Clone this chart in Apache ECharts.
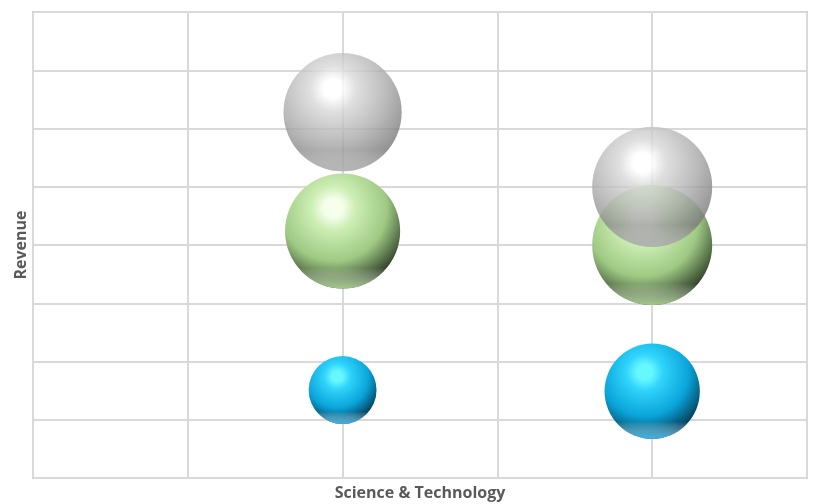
<!DOCTYPE html>
<html>
<head>
<meta charset="utf-8">
<script src="https://cdn.jsdelivr.net/npm/echarts@6/dist/echarts.min.js"></script>
<style>
html,body{margin:0;padding:0;background:#fff;}
#chart{width:814px;height:504px;}
</style>
</head>
<body>
<div id="chart"></div>
<script>
// Data (x position, revenue, bubble size)
const xTitle = 'Science & Technology';
const yTitle = 'Revenue';
const blueData  = [[2, 1.51, 32], [4, 1.49, 63]];
const greenData = [[2, 4.24, 92], [4, 4.00, 100]];
const grayData  = [[2, 6.28, 97], [4, 5.00, 100]];
const maxSize = 100;
const maxDiameter = 120;

function sphere(hi, light, base, dark) {
  return {
    type: 'radial', x: 0.42, y: 0.3, r: 0.8,
    colorStops: [
      {offset: 0, color: hi},
      {offset: 0.1, color: hi},
      {offset: 0.24, color: light},
      {offset: 0.58, color: base},
      {offset: 0.88, color: dark},
      {offset: 1, color: dark}
    ]
  };
}

function rim(color) {
  return {
    type: 'linear', x: 0, y: 0, x2: 0, y2: 1,
    colorStops: [
      {offset: 0, color: 'rgba(255,255,255,0)'},
      {offset: 0.82, color: 'rgba(255,255,255,0)'},
      {offset: 1, color: color}
    ]
  };
}

function sizeFn(v) { return Math.sqrt(v[2] / maxSize) * maxDiameter; }

const titleStyle = {fontFamily: 'Open Sans', fontWeight: 'bold', fontSize: 16, color: '#595959'};
const chart = echarts.init(document.getElementById('chart'));
chart.setOption({
  animation: false,
  grid: {left: 33, right: 7, top: 12, bottom: 26, outerBoundsMode: 'none', containLabel: false,
         show: true, borderColor: '#c8c8c8', borderWidth: 2},
  xAxis: {
    type: 'value', min: 0, max: 5, interval: 1,
    name: xTitle, nameLocation: 'middle', nameGap: 7, nameTextStyle: titleStyle,
    axisLine: {show: false}, axisTick: {show: false}, axisLabel: {show: false},
    splitLine: {show: true, lineStyle: {color: '#d9d9d9', width: 2}}
  },
  yAxis: {
    type: 'value', min: 0, max: 8, interval: 1,
    name: yTitle, nameLocation: 'middle', nameGap: 4, nameTextStyle: titleStyle,
    axisLine: {show: false}, axisTick: {show: false}, axisLabel: {show: false},
    splitLine: {show: true, lineStyle: {color: '#d9d9d9', width: 2}}
  },
  series: [
    {
      type: 'scatter', data: blueData, symbolSize: sizeFn,
      itemStyle: {color: sphere('#66f7ff', '#30d4fb', '#0aa4da', '#053c56'), opacity: 1}
    },
    {
      type: 'scatter', data: blueData, symbolSize: sizeFn, silent: true,
      itemStyle: {color: rim('rgba(60,200,255,0.85)'), opacity: 1}
    },
    {
      type: 'scatter', data: greenData, symbolSize: sizeFn,
      itemStyle: {color: sphere('#f6ffec', '#cdeeb4', '#9ec983', '#2f3f28'), opacity: 1}
    },
    {
      type: 'scatter', data: greenData, symbolSize: sizeFn, silent: true,
      itemStyle: {color: rim('rgba(180,225,150,0.85)'), opacity: 1}
    },
    {
      type: 'scatter', data: grayData, symbolSize: sizeFn,
      itemStyle: {color: sphere('#ffffff', '#d8d8d8', '#a8a8a8', '#747474'), opacity: 0.8}
    },
    {
      type: 'scatter', data: grayData, symbolSize: sizeFn, silent: true,
      itemStyle: {color: rim('rgba(210,210,210,0.7)'), opacity: 0.8}
    }
  ]
});
</script>
</body>
</html>
